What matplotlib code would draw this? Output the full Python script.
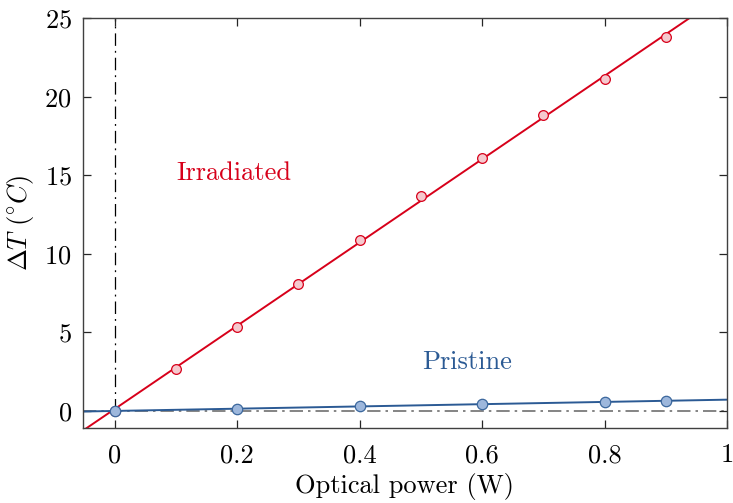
import numpy as np
import matplotlib
matplotlib.use("Agg")
import matplotlib.pyplot as plt

plt.rcParams['font.family'] = 'serif'
plt.rcParams['font.serif'] = ['cmr10']
plt.rcParams['mathtext.fontset'] = 'cm'
plt.rcParams['axes.formatter.use_mathtext'] = True

# measured data
power_irr = [0.0, 0.1, 0.2, 0.3, 0.4, 0.5, 0.6, 0.7, 0.8, 0.9]
dT_irr = [0.0, 2.65, 5.35, 8.05, 10.9, 13.7, 16.1, 18.8, 21.1, 23.8]
power_pri = [0.0, 0.2, 0.4, 0.6, 0.8, 0.9]
dT_pri = [0.0, 0.12, 0.28, 0.42, 0.55, 0.65]

red = '#d7001a'
blue = '#2b5a94'

fig = plt.figure(figsize=(7.33, 5.03), dpi=100)
ax = fig.add_axes([0.113, 0.149, 0.879, 0.815])

xx = np.linspace(-0.06, 1.0, 200)
p_irr = np.polyfit(power_irr, dT_irr, 1)
p_pri = np.polyfit(power_pri, dT_pri, 1)

ax.axhline(0, color='#707070', ls='-.', lw=1.2, dashes=(8, 3, 1.5, 3), zorder=1)
ax.plot([0, 0], [0, 25], color='black', ls='-.', lw=0.9, dashes=(10, 4, 1.5, 4), zorder=1)

ax.plot(xx, np.polyval(p_irr, xx), color=red, lw=1.4, zorder=2)
ax.plot(xx, np.polyval(p_pri, xx), color=blue, lw=1.4, zorder=2)
ax.plot(power_irr, dT_irr, 'o', ms=7, mfc='#f5c9ce', mec=red, mew=0.9, zorder=3)
ax.plot(power_pri, dT_pri, 'o', ms=7.5, mfc='#9db7dc', mec='#3b679d', mew=0.9, zorder=4)

ax.text(0.194, 15.1, 'Irradiated', color=red, fontsize=19, ha='center', va='center')
ax.text(0.576, 3.1, 'Pristine', color=blue, fontsize=19, ha='center', va='center')

ax.set_xlim(-0.052, 1.0)
ax.set_ylim(-1.1, 25)
ax.set_xticks([0, 0.2, 0.4, 0.6, 0.8, 1])
ax.set_xticklabels(['0', '0.2', '0.4', '0.6', '0.8', '1'])
ax.set_yticks([0, 5, 10, 15, 20, 25])
ax.tick_params(direction='in', top=True, right=True, length=6, width=0.9,
               labelsize=19, color='#262626')
ax.tick_params(axis='x', pad=11)
ax.tick_params(axis='y', pad=8)
for s in ax.spines.values():
    s.set_color('#404040')
    s.set_linewidth(1.0)
ax.set_xlabel('Optical power (W)', fontsize=19, labelpad=4)
ax.set_ylabel(r'$\Delta T\ (^{\circ}C)$', fontsize=19, labelpad=6)

fig.savefig('out.png', dpi=100)
